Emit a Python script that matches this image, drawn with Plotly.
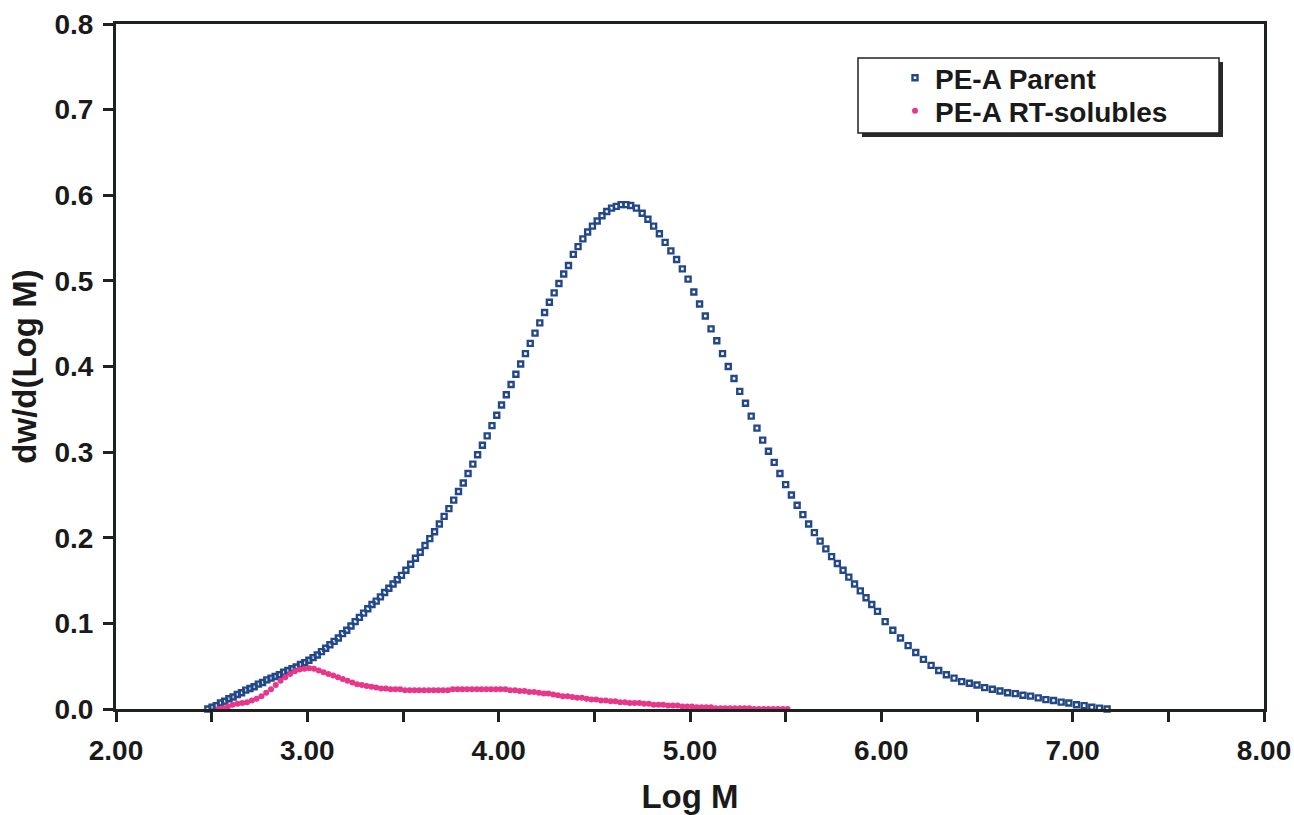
import plotly.graph_objects as go

# ---------------- data ----------------
parent_logm = [
    2.480, 2.502, 2.524, 2.546, 2.568, 2.590, 2.612, 2.634, 2.656, 2.678,
    2.700, 2.722, 2.744, 2.766, 2.788, 2.810, 2.832, 2.854, 2.876, 2.898,
    2.920, 2.942, 2.964, 2.986, 3.008, 3.030, 3.052, 3.074, 3.096, 3.118,
    3.140, 3.162, 3.184, 3.206, 3.228, 3.250, 3.272, 3.294, 3.316, 3.338,
    3.360, 3.382, 3.404, 3.426, 3.448, 3.470, 3.492,
    3.515, 3.540, 3.565, 3.590, 3.615, 3.640, 3.665, 3.690, 3.715, 3.740,
    3.765, 3.790, 3.815, 3.840, 3.865, 3.890, 3.915, 3.940, 3.965, 3.990,
    4.015, 4.040, 4.065, 4.090, 4.115, 4.140, 4.165, 4.190, 4.215, 4.240,
    4.265, 4.290, 4.315, 4.340, 4.365, 4.390, 4.415, 4.440, 4.465, 4.490,
    4.515, 4.540, 4.565, 4.590, 4.615, 4.640, 4.665, 4.690,
    4.720, 4.750, 4.780, 4.810, 4.840, 4.870, 4.900, 4.930, 4.960, 4.990,
    5.020, 5.050, 5.080, 5.110, 5.140, 5.170, 5.200, 5.230, 5.260, 5.290,
    5.320, 5.350, 5.380, 5.410, 5.440, 5.470, 5.500, 5.530, 5.560, 5.590,
    5.620, 5.650, 5.680, 5.710, 5.740, 5.770, 5.800, 5.830, 5.860, 5.890,
    5.920, 5.950, 5.980,
    6.020, 6.060, 6.100, 6.140, 6.180, 6.220, 6.260, 6.300, 6.340, 6.380,
    6.420, 6.460, 6.500, 6.540, 6.580, 6.620, 6.660, 6.700, 6.740, 6.780,
    6.820, 6.860, 6.900, 6.940, 6.980, 7.020, 7.060, 7.100, 7.140, 7.180,
]
parent_dw = [
    0.000, 0.002, 0.004, 0.007, 0.009, 0.012, 0.014, 0.017, 0.019, 0.022,
    0.024, 0.026, 0.029, 0.031, 0.034, 0.036, 0.038, 0.040, 0.043, 0.045,
    0.047, 0.049, 0.052, 0.054, 0.057, 0.060, 0.063, 0.067, 0.071, 0.075,
    0.079, 0.083, 0.088, 0.092, 0.097, 0.102, 0.107, 0.112, 0.117, 0.122,
    0.126, 0.131, 0.136, 0.141, 0.146, 0.151, 0.156,
    0.162, 0.169, 0.176, 0.183, 0.191, 0.199, 0.207, 0.216, 0.225, 0.234,
    0.244, 0.254, 0.264, 0.275, 0.286, 0.297, 0.308, 0.319, 0.331, 0.343,
    0.355, 0.367, 0.379, 0.391, 0.403, 0.415, 0.427, 0.439, 0.451, 0.463,
    0.475, 0.486, 0.497, 0.508, 0.518, 0.531, 0.540, 0.549, 0.557, 0.564,
    0.570, 0.576, 0.581, 0.585, 0.587, 0.589, 0.589, 0.588,
    0.585, 0.579, 0.572, 0.564, 0.555, 0.545, 0.535, 0.525, 0.514, 0.502,
    0.487, 0.473, 0.459, 0.444, 0.430, 0.415, 0.400, 0.386, 0.371, 0.357,
    0.342, 0.328, 0.314, 0.301, 0.288, 0.275, 0.262, 0.250, 0.238, 0.227,
    0.216, 0.206, 0.196, 0.187, 0.178, 0.170, 0.162, 0.154, 0.146, 0.138,
    0.130, 0.122, 0.114,
    0.102, 0.092, 0.083, 0.074, 0.066, 0.058, 0.051, 0.045, 0.040, 0.036,
    0.032, 0.030, 0.028, 0.025, 0.023, 0.021, 0.019, 0.018, 0.016, 0.015,
    0.013, 0.011, 0.010, 0.008, 0.007, 0.005, 0.004, 0.002, 0.001, 0.000,
]

sol_logm = [
    2.535, 2.560, 2.585, 2.610, 2.635, 2.660, 2.685, 2.710, 2.735, 2.760,
    2.785, 2.810, 2.835, 2.860, 2.885, 2.910, 2.935, 2.960, 2.985, 3.010,
    3.035, 3.060, 3.085, 3.110, 3.135, 3.160, 3.185, 3.210, 3.235, 3.260,
    3.285, 3.310, 3.335, 3.360, 3.385, 3.410, 3.435, 3.460, 3.485, 3.510,
    3.535, 3.560, 3.585, 3.610, 3.635, 3.660, 3.685, 3.710, 3.735, 3.760,
    3.785, 3.810, 3.835, 3.860, 3.885, 3.910, 3.935, 3.960, 3.985, 4.010,
    4.035, 4.060, 4.085, 4.110, 4.135, 4.160, 4.185, 4.210, 4.235, 4.260,
    4.285, 4.310, 4.335, 4.360, 4.385, 4.410, 4.435, 4.460, 4.485, 4.510,
    4.535, 4.560, 4.585, 4.610, 4.635, 4.660, 4.685, 4.710, 4.735, 4.760,
    4.785, 4.810, 4.835, 4.860, 4.885, 4.910, 4.935, 4.960, 4.985, 5.010,
    5.035, 5.060, 5.085, 5.110, 5.135, 5.160, 5.185, 5.210, 5.235, 5.260,
    5.285, 5.310, 5.335, 5.360, 5.385, 5.410, 5.435, 5.460, 5.485, 5.510,
]
sol_dw = [
    0.000, 0.001, 0.003, 0.005, 0.006, 0.007, 0.008, 0.010, 0.012, 0.015,
    0.019, 0.023, 0.028, 0.033, 0.037, 0.041, 0.044, 0.046, 0.047, 0.0475,
    0.047, 0.045, 0.043, 0.041, 0.039, 0.037, 0.035, 0.033, 0.031, 0.029,
    0.028, 0.027, 0.026, 0.025, 0.024, 0.024, 0.023, 0.023, 0.023, 0.022,
    0.022, 0.022, 0.022, 0.022, 0.022, 0.022, 0.022, 0.022, 0.022, 0.023,
    0.023, 0.023, 0.023, 0.023, 0.023, 0.023, 0.023, 0.023, 0.023, 0.023,
    0.023, 0.022, 0.022, 0.021, 0.021, 0.020, 0.020, 0.019, 0.018, 0.018,
    0.017, 0.016, 0.015, 0.015, 0.014, 0.013, 0.013, 0.012, 0.011, 0.011,
    0.010, 0.010, 0.009, 0.009, 0.008, 0.008, 0.007, 0.007, 0.007, 0.006,
    0.006, 0.005, 0.005, 0.005, 0.004, 0.004, 0.004, 0.003, 0.003, 0.003,
    0.002, 0.002, 0.002, 0.002, 0.001, 0.001, 0.001, 0.001, 0.001, 0.001,
    0.001, 0.001, 0.000, 0.000, 0.000, 0.000, 0.000, 0.000, 0.000, 0.000,
]

x_tick_vals = [2.0, 2.5, 3.0, 3.5, 4.0, 4.5, 5.0, 5.5, 6.0, 6.5, 7.0, 7.5, 8.0]
x_tick_text = ["2.00", "", "3.00", "", "4.00", "", "5.00", "", "6.00", "", "7.00", "", "8.00"]
y_tick_vals = [0.0, 0.1, 0.2, 0.3, 0.4, 0.5, 0.6, 0.7, 0.8]
y_tick_text = ["0.0", "0.1", "0.2", "0.3", "0.4", "0.5", "0.6", "0.7", "0.8"]

series_names = ["PE-A Parent", "PE-A RT-solubles"]

# ---------------- figure ----------------
FONT = "Arial, 'Liberation Sans', sans-serif"
AXIS_COLOR = "#1f2320"
TXT = "#1a1a1a"
BLUE = "#22488a"
PINK = "#e8378b"

fig = go.Figure()
fig.add_trace(go.Scatter(
    x=parent_logm, y=parent_dw, mode="markers", name=series_names[0],
    marker=dict(symbol="square-open", size=5, color=BLUE, line=dict(width=2.4, color=BLUE)),
    cliponaxis=False, legend="legend",
))
fig.add_trace(go.Scatter(
    x=sol_logm, y=sol_dw, mode="markers", name=series_names[1],
    marker=dict(symbol="circle", size=6, color=PINK),
    cliponaxis=False, legend="legend2",
))

W, H = 1294, 815
L, R, T, B = 116, 30, 24, 106
pw, ph = W - L - R, H - T - B


def px_to_paper(xp, yp):
    return (xp - L) / pw, (H - B - yp) / ph


bx0, by1 = px_to_paper(858, 58)
bx1, by0 = px_to_paper(1219, 133)
sdx = 4 / pw
sdy = 4 / ph

fig.add_shape(type="rect", xref="paper", yref="paper",
              x0=bx0 + sdx, x1=bx1 + sdx, y0=by0 - sdy, y1=by1 - sdy,
              fillcolor="#2a2a2a", line=dict(width=0), layer="above")
fig.add_shape(type="rect", xref="paper", yref="paper",
              x0=bx0, x1=bx1, y0=by0, y1=by1,
              fillcolor="white", line=dict(width=1.5, color="#222"), layer="above")

leg_font = dict(family=FONT, size=28, color=TXT, weight="bold")
l1x, l1y = px_to_paper(895, 53)
l2x, l2y = px_to_paper(895, 86)

fig.update_layout(
    width=W, height=H,
    margin=dict(l=L, r=R, t=T, b=B, autoexpand=False),
    paper_bgcolor="white", plot_bgcolor="white",
    font=dict(family=FONT, size=26, color=TXT),
    showlegend=True,
    legend=dict(x=l1x, y=l1y, xanchor="left", yanchor="top",
                bgcolor="rgba(0,0,0,0)", borderwidth=0, font=leg_font),
    legend2=dict(x=l2x, y=l2y, xanchor="left", yanchor="top",
                 bgcolor="rgba(0,0,0,0)", borderwidth=0, font=leg_font),
    xaxis=dict(
        range=[2, 8], tickvals=x_tick_vals, ticktext=x_tick_text,
        showgrid=False, zeroline=False, automargin=False,
        showline=True, linewidth=3, linecolor=AXIS_COLOR, mirror=True,
        ticks="outside", ticklen=10, tickwidth=3, tickcolor=AXIS_COLOR,
        tickfont=dict(family=FONT, size=28, color=TXT, weight="bold"),
        ticklabelstandoff=4,
        title=dict(text="<b>Log M</b>", font=dict(family=FONT, size=33, color=TXT), standoff=24),
    ),
    yaxis=dict(
        range=[0, 0.8], tickvals=y_tick_vals, ticktext=y_tick_text,
        showgrid=False, zeroline=False, automargin=False,
        showline=True, linewidth=3, linecolor=AXIS_COLOR, mirror=True,
        ticks="outside", ticklen=10, tickwidth=3, tickcolor=AXIS_COLOR,
        tickfont=dict(family=FONT, size=28, color=TXT, weight="bold"),
        ticklabelstandoff=4,
        title=dict(text="<b>dw/d(Log M)</b>", font=dict(family=FONT, size=33, color=TXT), standoff=8),
    ),
)

fig.write_html("out.html")
